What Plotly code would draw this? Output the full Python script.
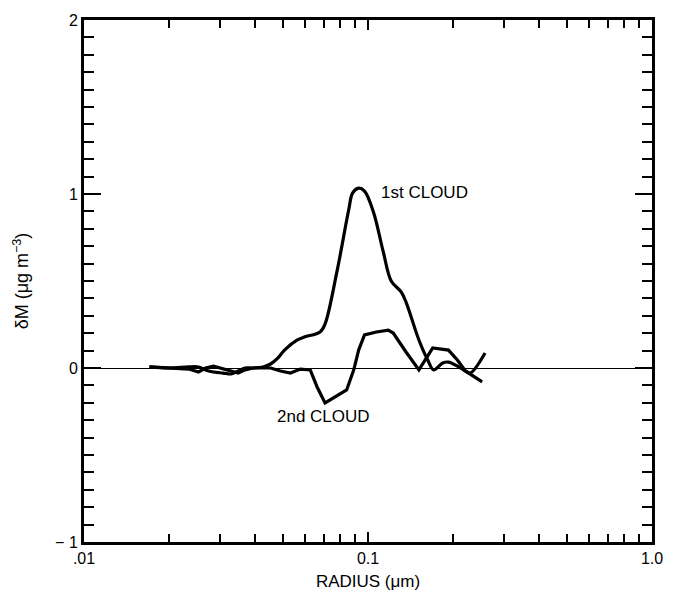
import plotly.graph_objects as go
import math

# 1st CLOUD
r1 = [0.0170, 0.0199, 0.0234, 0.0253, 0.0268, 0.0286, 0.0309, 0.0330, 0.0349, 0.0369,
      0.0394, 0.0427, 0.0454, 0.0481, 0.0508, 0.0564, 0.0597, 0.0678, 0.0706, 0.0777,
      0.0855, 0.0883, 0.0927, 0.0972, 0.1045, 0.1132, 0.1207, 0.1308, 0.1361, 0.1511,
      0.1623, 0.1703, 0.1832, 0.1920, 0.2064, 0.2203, 0.2291, 0.2583]
m1 = [0.006, 0.0, 0.006, 0.006, -0.011, -0.023, -0.029, -0.034, -0.017, 0.0,
      0.0, 0.006, 0.023, 0.057, 0.103, 0.161, 0.178, 0.207, 0.253, 0.552,
      0.908, 1.006, 1.034, 1.017, 0.897, 0.667, 0.500, 0.437, 0.379, 0.161,
      0.046, -0.011, 0.029, 0.034, 0.011, -0.017, -0.029, 0.086]

# 2nd CLOUD
r2 = [0.0170, 0.0199, 0.0234, 0.0253, 0.0268, 0.0286, 0.0309, 0.0330, 0.0349, 0.0369,
      0.0394, 0.0454, 0.0492, 0.0533, 0.0578, 0.0626, 0.0662, 0.0706, 0.0759, 0.0841,
      0.0891, 0.0927, 0.0972, 0.1071, 0.1178, 0.1227, 0.1361, 0.1511, 0.1690, 0.1920,
      0.2064, 0.2203, 0.2523]
m2 = [0.006, 0.0, -0.006, -0.023, 0.0, 0.011, -0.006, -0.017, -0.029, -0.011,
      0.0, 0.0, -0.017, -0.029, -0.006, -0.011, -0.109, -0.201, -0.172, -0.126,
      -0.011, 0.103, 0.190, 0.207, 0.218, 0.201, 0.092, -0.011, 0.115, 0.103,
      0.046, -0.017, -0.080]

x_ticks = [0.01, 0.1, 1.0]
x_ticktext = [".01", "0.1", "1.0"]
x_minor = [0.02, 0.03, 0.04, 0.05, 0.06, 0.07, 0.08, 0.09,
           0.2, 0.3, 0.4, 0.5, 0.6, 0.7, 0.8, 0.9]
y_ticks = [-1, 0, 1, 2]
y_ticktext = ["\u2212 1", "0", "1", "2"]

FONT = "Liberation Sans, Arial, Helvetica, sans-serif"

fig = go.Figure()
fig.add_trace(go.Scatter(x=r1, y=m1, mode="lines", line=dict(color="black", width=3.2),
                         line_shape="spline", showlegend=False))
fig.add_trace(go.Scatter(x=r2, y=m2, mode="lines", line=dict(color="black", width=3.2),
                         showlegend=False))

fig.add_annotation(x=math.log10(0.1096), y=1.011, text="1st CLOUD", showarrow=False,
                   xanchor="left", yanchor="middle", font=dict(size=17, color="black", family=FONT))
fig.add_annotation(x=math.log10(0.0469), y=-0.276, text="2nd CLOUD", showarrow=False,
                   xanchor="left", yanchor="middle", font=dict(size=17, color="black", family=FONT))

fig.update_layout(
    width=675, height=600,
    margin=dict(l=84, r=17, t=20, b=58),
    paper_bgcolor="white", plot_bgcolor="white",
    font=dict(family=FONT, color="black", size=16),
    xaxis=dict(type="log", range=[-2, 0], showgrid=False, zeroline=False,
               showline=True, linecolor="black", linewidth=3, mirror="allticks",
               ticks="inside", tickvals=x_ticks, ticktext=x_ticktext, ticklen=10,
               tickwidth=1.5, tickcolor="black", tickfont=dict(size=16, family=FONT),
               minor=dict(tickvals=x_minor, ticks="inside", ticklen=8, tickwidth=1.5,
                          tickcolor="black", showgrid=False),
               title=dict(text="RADIUS (\u03bcm)", font=dict(size=17, family=FONT, color="black"),
                          standoff=9)),
    yaxis=dict(range=[-1, 2], showgrid=False, zeroline=True, zerolinecolor="black",
               zerolinewidth=1,
               showline=True, linecolor="black", linewidth=3, mirror="allticks",
               ticks="inside", tickvals=y_ticks, ticktext=y_ticktext, ticklen=17,
               tickwidth=1.5, tickcolor="black", tickfont=dict(size=16, family=FONT),
               minor=dict(dtick=0.1, ticks="inside", ticklen=10, tickwidth=1.5,
                          tickcolor="black", showgrid=False),
               title=dict(text="\u03b4M (\u03bcg m<sup>\u22123</sup>)",
                          font=dict(size=18, family=FONT, color="black"), standoff=22)),
)

fig.write_html("out.html")
